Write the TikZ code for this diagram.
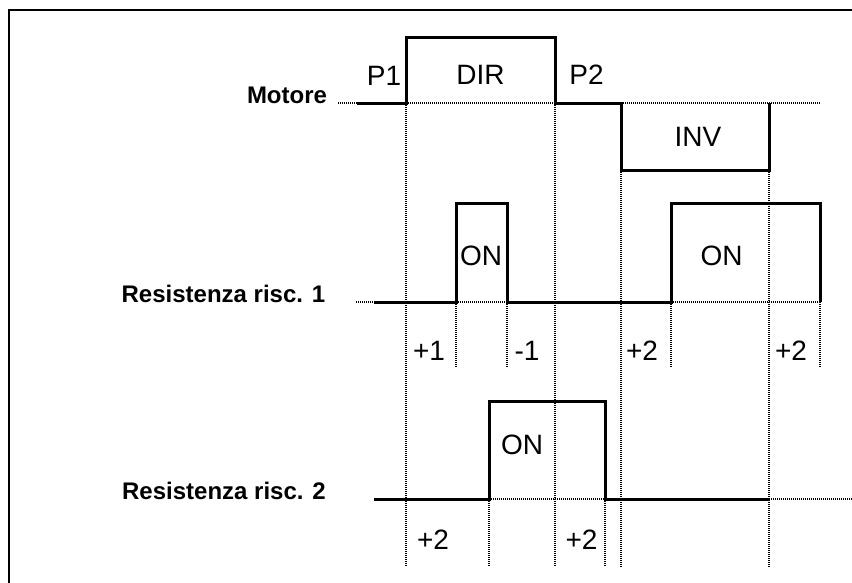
\documentclass[tikz,border=0pt]{standalone}
\usepackage{fontspec}
\setmainfont{Liberation Sans}
\begin{document}
\begin{tikzpicture}[x=1pt,y=-1pt,
  sig/.style={line width=3pt,line join=miter},
  dots/.style={line width=1.2pt,dash pattern=on 1pt off 1pt,black},
  frame/.style={line width=2pt},
  lab/.style={font=\fontsize{24}{26}\selectfont\bfseries,anchor=base,inner sep=0pt},
  txt/.style={font=\fontsize{28}{30}\selectfont,anchor=base,inner sep=0pt}]
\useasboundingbox (0,0) rectangle (852,582);
\clip (0,0) rectangle (852,582);
\draw[frame] (8.5,10) rectangle (880,610);
% dotted guides
\draw[dots] (338,103) -- (357,103);
\draw[dots] (406,103) -- (555,103);
\draw[dots] (621,103) -- (821,103);
\draw[dots] (406,103) -- (406,567);
\draw[dots] (555,103) -- (555,567);
\draw[dots] (621,170) -- (621,567);
\draw[dots] (769,170) -- (769,567);
\draw[dots] (456,302) -- (456,368);
\draw[dots] (507,302) -- (507,368);
\draw[dots] (671,302) -- (671,368);
\draw[dots] (820,302) -- (820,368);
\draw[dots] (356,302) -- (374,302);
\draw[dots] (456,302) -- (507,302);
\draw[dots] (671,302) -- (820,302);
\draw[dots] (489,499) -- (489,567);
\draw[dots] (605,499) -- (605,567);
\draw[dots] (489,499) -- (605,499);
\draw[dots] (769,499) -- (860,499);
% signals
\draw[sig] (357,103) -- (406,103) -- (406,37) -- (555,37) -- (555,103) -- (621,103) -- (621,170) -- (769,170) -- (769,103);
\draw[sig] (374,302) -- (456,302) -- (456,203) -- (507,203) -- (507,302) -- (671,302) -- (671,203) -- (820,203) -- (820,302);
\draw[sig] (374,499) -- (489,499) -- (489,401) -- (605,401) -- (605,499) -- (769,499);
% labels
\node[lab] (motore) at (287,103) {Motore};
\node[lab] (r1) at (223.5,302) {Resistenza risc. 1};
\node[lab] (r2) at (224,499) {Resistenza risc. 2};
\node[txt] (p1) at (384,85) {P1};
\node[txt] (dir) at (480.5,84) {DIR};
\node[txt] (p2) at (586.5,84) {P2};
\node[txt] (inv) at (698,146) {INV};
\node[txt] (on1) at (481,265) {ON};
\node[txt] (on2) at (721.5,265) {ON};
\node[txt] (on3) at (522,454) {ON};
\node[txt] (a1) at (429,360) {+1};
\node[txt] (a2) at (527,360) {-1};
\node[txt] (a3) at (642,360) {+2};
\node[txt] (a4) at (791,360) {+2};
\node[txt] (b1) at (433,549) {+2};
\node[txt] (b2) at (581.5,549) {+2};
\end{tikzpicture}
\end{document}
